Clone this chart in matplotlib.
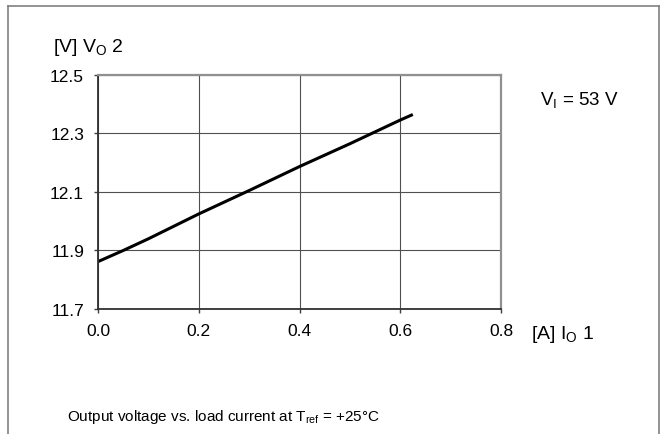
import matplotlib
matplotlib.use("Agg")
import matplotlib.pyplot as plt
from matplotlib.lines import Line2D

# Output voltage vs load current
load_current = [0.0, 0.05, 0.1, 0.2, 0.3, 0.4, 0.5, 0.6, 0.625]   # A
out_voltage = [11.862, 11.90, 11.94, 12.025, 12.105, 12.187, 12.265, 12.346, 12.365]  # V

x_ticks = [0.0, 0.2, 0.4, 0.6, 0.8]
y_ticks = [11.7, 11.9, 12.1, 12.3, 12.5]

plt.rcParams['font.family'] = ['Liberation Sans', 'DejaVu Sans']
plt.rcParams['mathtext.default'] = 'regular'

W, H = 665, 435
fig = plt.figure(figsize=(W / 100, H / 100), dpi=100)
# axes box in pixels: x 98..501, y 76..310
ax = fig.add_axes([98 / W, 1 - 310 / H, (501 - 98) / W, (310 - 76) / H])

ax.plot(load_current, out_voltage, color='black', lw=2.2, solid_capstyle='butt')

ax.set_xlim(0, 0.8)
ax.set_ylim(11.7, 12.5)
ax.set_xticks(x_ticks)
ax.set_yticks(y_ticks)
ax.set_xticklabels(['%.1f' % v for v in x_ticks])
ax.set_yticklabels(['%.1f' % v for v in y_ticks])
ax.tick_params(labelsize=12.5, length=3, width=1, color='#404040', pad=7)
ax.grid(True, color='#505050', lw=0.8)

for side in ['left', 'bottom']:
    ax.spines[side].set_color('#303030')
    ax.spines[side].set_linewidth(1.3)
for side in ['top', 'right']:
    ax.spines[side].set_color('#909090')
    ax.spines[side].set_linewidth(1.6)

# axis labels placed like the datasheet
fig.text(53 / W, 1 - 48 / H, '[V] V$_O$ 2', fontsize=14, va='center', ha='left')
fig.text(531 / W, 1 - 335 / H, '[A] I$_O$ 1', fontsize=14, va='center', ha='left')
fig.text(540 / W, 1 - 100 / H, 'V$_I$ = 53 V', fontsize=13.5, va='center', ha='left')
fig.text(67 / W, 1 - 417 / H, 'Output voltage vs. load current at T$_{ref}$ = +25°C',
         fontsize=11, va='center', ha='left')

# frame around the figure (no bottom edge)
def px_line(x0, y0, x1, y1):
    fig.add_artist(Line2D([x0 / W, x1 / W], [1 - y0 / H, 1 - y1 / H],
                          transform=fig.transFigure, color='#808080', lw=1.2))

px_line(8, 7, 659, 7)
px_line(8, 7, 8, H)
px_line(659, 7, 659, H)

fig.savefig('out.png', dpi=100)
